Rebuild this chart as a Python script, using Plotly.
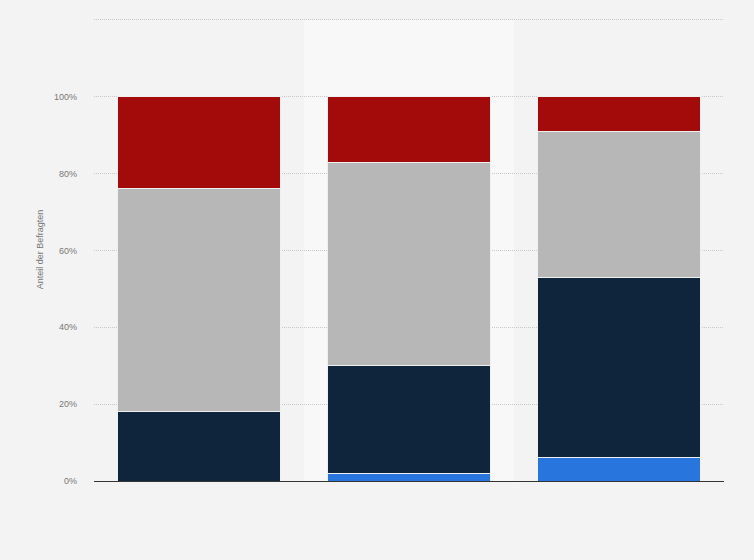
import plotly.graph_objects as go

categories = ["Gruppe 1", "Gruppe 2", "Gruppe 3"]
series_names = ["Serie A", "Serie B", "Serie C", "Serie D"]
val_a = [0, 2, 6]        # bright blue (bottom)
val_b = [18, 28, 47]     # navy
val_c = [58, 53, 38]     # grey
val_d = [24, 17, 9]      # red (top)
colors = ["#2876dd", "#0f253c", "#b7b7b7", "#a30a0a"]
tick_vals = [0, 20, 40, 60, 80, 100, 120]
tick_text = ["0%", "20%", "40%", "60%", "80%", "100%", ""]

fig = go.Figure()
for name, vals, col in zip(series_names, [val_a, val_b, val_c, val_d], colors):
    fig.add_trace(go.Bar(
        x=categories, y=vals, name=name,
        marker=dict(color=col, line=dict(color="#f0f0f0", width=1)),
    ))

fig.add_shape(type="rect", xref="x", yref="y", x0=0.5, x1=1.5, y0=0, y1=120,
              fillcolor="#f8f8f8", line=dict(width=0), layer="below")

fig.update_layout(
    barmode="stack",
    bargap=0.22,
    width=754, height=560,
    margin=dict(l=94, r=30, t=18, b=79),
    paper_bgcolor="#f3f3f3",
    plot_bgcolor="#f3f3f3",
    showlegend=False,
    font=dict(family="Liberation Sans, Arial, sans-serif", size=9, color="#666666"),
)
fig.update_xaxes(
    showticklabels=False, showgrid=False, ticks="",
    showline=True, linecolor="#333333", linewidth=1,
)
fig.update_yaxes(
    range=[0, 120.5], tickvals=tick_vals, ticktext=tick_text,
    showgrid=True, gridcolor="#c8c8c8", griddash="1px,1px", gridwidth=1,
    zeroline=False, ticklabelstandoff=16,
    title=dict(text="Anteil der Befragten", font=dict(size=9, color="#777777"), standoff=8),
    tickfont=dict(size=9, color="#777777"),
)

fig.write_html(
    "out.html",
    config={"displayModeBar": False},
    post_script="document.body.style.margin='0';document.body.style.background='#f3f3f3';",
)
